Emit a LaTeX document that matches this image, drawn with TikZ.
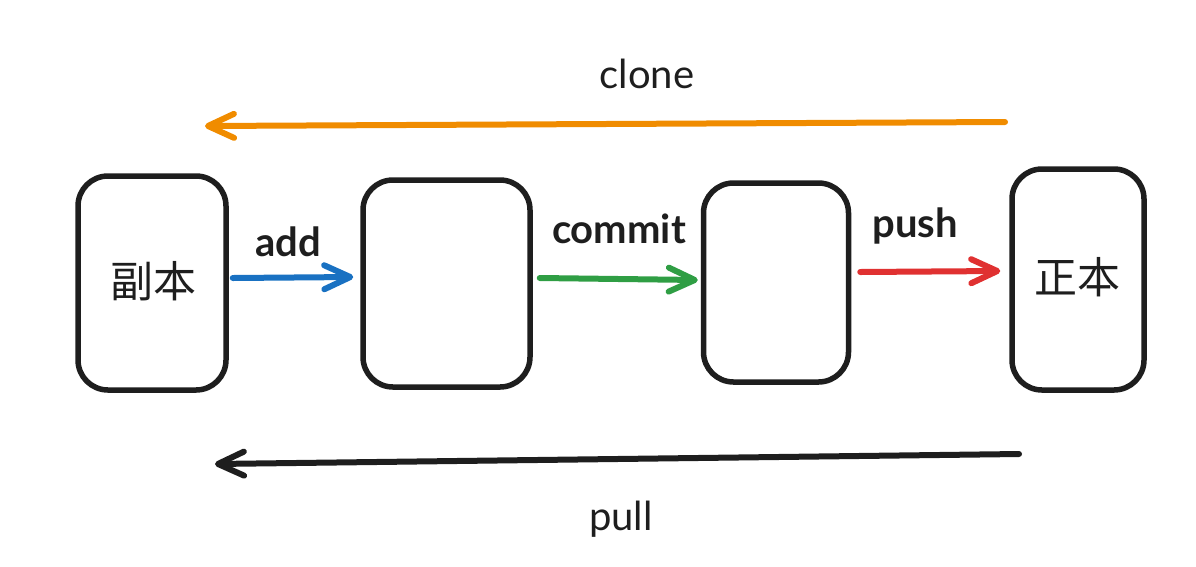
\documentclass[tikz,border=0pt]{standalone}
\usepackage{fontspec}
\setmainfont{Lato}
\newfontfamily\cjk{Noto Sans CJK SC}
\usetikzlibrary{arrows.meta}
\definecolor{exblack}{HTML}{1E1E1E}
\definecolor{exorange}{HTML}{F08C00}
\definecolor{exblue}{HTML}{1971C2}
\definecolor{exgreen}{HTML}{2F9E44}
\definecolor{exred}{HTML}{E03131}
\begin{document}
\begin{tikzpicture}[x=1pt,y=-1pt,
  boxnode/.style={draw=exblack, line width=5.5pt, rounded corners=30pt, fill=white, inner sep=0pt},
  arr/.style={line width=6pt, line cap=round, -{Straight Barb[length=26pt,width=24pt,round]}},
  lbl/.style={font=\fontsize{40}{44}\selectfont, text=exblack, inner sep=0pt},
  blbl/.style={font=\bfseries\fontsize{40}{44}\selectfont, text=exblack, inner sep=0pt},
  cjklbl/.style={font=\cjk\fontsize{43}{46}\selectfont, text=exblack, inner sep=0pt}]
\useasboundingbox (0,0) rectangle (1196,566);
\node[boxnode, minimum width=148pt, minimum height=214pt] (b1) at (152,283) {};
\node[boxnode, minimum width=167pt, minimum height=207pt] (b2) at (446.5,283.5) {};
\node[boxnode, minimum width=145pt, minimum height=199pt] (b3) at (776,282.5) {};
\node[boxnode, minimum width=132pt, minimum height=221pt] (b4) at (1078,279.5) {};
\node[cjklbl] (t1) at (153,281) {副本};
\node[cjklbl] (t4) at (1077,277) {正本};
\coordinate (cs) at (1005,122);
\coordinate (ce) at (205,126);
\coordinate (ps) at (1019,454);
\coordinate (pe) at (215,464);
\draw[arr, exorange] (cs) -- (ce);
\draw[arr, exblack] (ps) -- (pe);
\draw[arr, exblue] ([shift={(4,-5)}]b1.east) -- ([shift={(-7,-6.5)}]b2.west);
\draw[arr, exgreen] ([shift={(7,-5.5)}]b2.east) -- ([shift={(-3,-2.5)}]b3.west);
\draw[arr, exred] ([shift={(9,-10.5)}]b3.east) -- ([shift={(-9,-8.5)}]b4.west);
\node[lbl] (lclone) at (647,74) {clone};
\node[blbl] (ladd) at (288,242) {add};
\node[blbl] (lcommit) at (619,229) {commit};
\node[blbl] (lpush) at (915,226) {push};
\node[lbl] (lpull) at (621,519) {pull};
\end{tikzpicture}
\end{document}
